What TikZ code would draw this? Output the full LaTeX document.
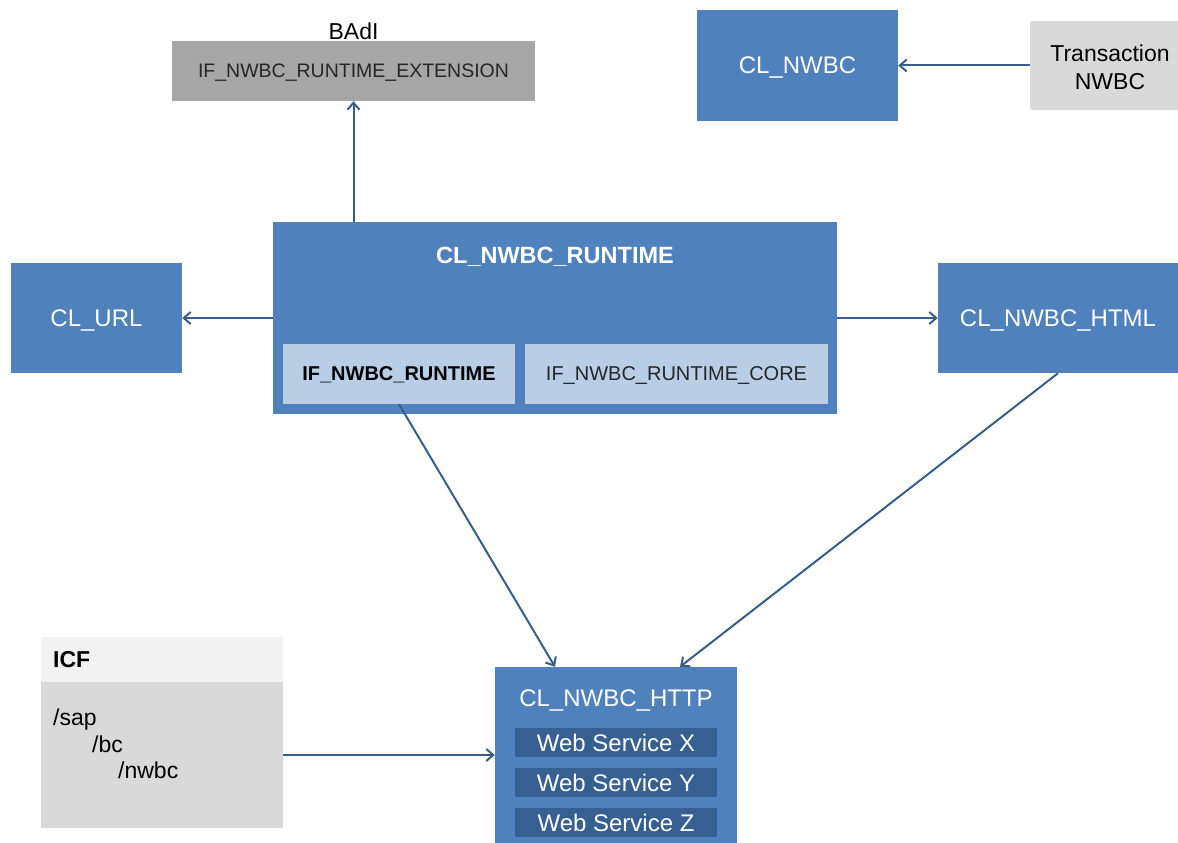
\documentclass[tikz,border=0pt]{standalone}
\usepackage{fontspec}
\setmainfont{Liberation Sans}
\usetikzlibrary{arrows.meta,calc}
\definecolor{sapblue}{HTML}{4F81BD}
\definecolor{lightblue}{HTML}{B9CDE5}
\definecolor{darkblue}{HTML}{366092}
\definecolor{midgrey}{HTML}{A6A6A6}
\definecolor{lightgrey}{HTML}{D9D9D9}
\definecolor{palegrey}{HTML}{F2F2F2}
\definecolor{arrowcol}{HTML}{385D8A}
\definecolor{textgrey}{HTML}{262626}
\tikzset{
  x=1pt, y=-1pt,
  bluebox/.style={fill=sapblue, draw=none, text=white, font=\fontsize{24}{28}\selectfont, inner sep=0pt, text depth=0pt},
  ifbox/.style={fill=lightblue, draw=none, font=\fontsize{20}{24}\selectfont, inner sep=0pt, text depth=0pt},
  wsbox/.style={fill=darkblue, draw=none, text=white, font=\fontsize{24}{28}\selectfont, inner sep=0pt, minimum width=202pt, minimum height=29pt, text depth=0pt},
  greybox/.style={fill=lightgrey, draw=none, inner sep=0pt},
  conn/.style={draw=arrowcol, line width=2pt, -{Straight Barb[length=7pt,width=12pt,line width=2pt]}},
}
\begin{document}
\begin{tikzpicture}
\useasboundingbox (0,0) rectangle (1178,843);

% BAdI
\node[fill=midgrey, inner sep=0pt, minimum width=363pt, minimum height=60pt, text=textgrey, text depth=0pt, font=\fontsize{19.5}{23}\selectfont] (badi) at (353.5,71) {IF\_NWBC\_RUNTIME\_EXTENSION};
\node[font=\fontsize{23}{27}\selectfont, anchor=south, inner sep=1pt] (badilabel) at (badi.north) {BAdI};

% CL_NWBC and Transaction
\node[bluebox, minimum width=201pt, minimum height=111pt] (nwbc) at (797.5,65.5) {CL\_NWBC};
\node[greybox, rounded corners=3pt, minimum width=152pt, minimum height=89pt] (trans) at (1106,65.5) {};
\node[align=center, font=\fontsize{23}{28}\selectfont, inner sep=0pt] (transtext) at (1110,67) {Transaction\\NWBC};

% Runtime
\node[bluebox, minimum width=564pt, minimum height=192pt] (rt) at (555,318) {};
\node[text=white, font=\bfseries\fontsize{23.5}{28}\selectfont, inner sep=0pt, text depth=0pt] (rttitle) at (555,255) {CL\_NWBC\_RUNTIME};
\node[ifbox, minimum width=232pt, minimum height=60pt, font=\bfseries\fontsize{20}{24}\selectfont] (ifrt) at (399,374) {IF\_NWBC\_RUNTIME};
\node[ifbox, minimum width=303pt, minimum height=60pt, text=textgrey] (ifcore) at (676.5,374) {IF\_NWBC\_RUNTIME\_CORE};

% CL_URL and CL_NWBC_HTML
\node[bluebox, minimum width=171pt, minimum height=110pt] (url) at (96.5,318) {CL\_URL};
\node[bluebox, minimum width=240pt, minimum height=110pt] (html) at (1058,318) {CL\_NWBC\_HTML};

% ICF
\node[fill=palegrey, inner sep=0pt, minimum width=242pt, minimum height=45pt] (icfhead) at (162,659.5) {};
\node[font=\bfseries\fontsize{23}{27}\selectfont, anchor=west, inner sep=0pt] (icflabel) at (53,660) {ICF};
\node[greybox, minimum width=242pt, minimum height=146pt] (icfbody) at (162,755) {};
\node[font=\fontsize{23}{26.5}\selectfont, anchor=north west, inner sep=0pt, align=left] (icftext) at (53,709)
  {/sap\\\hspace*{39pt}/bc\\\hspace*{65pt}/nwbc};

% HTTP
\node[bluebox, minimum width=242pt, minimum height=176pt] (http) at (616,755) {};
\node[text=white, font=\fontsize{24}{28}\selectfont, inner sep=0pt, text depth=0pt] (httptitle) at (616,698) {CL\_NWBC\_HTTP};
\node[wsbox] (wsx) at (616,742.5) {Web Service X};
\node[wsbox] (wsy) at (616,782.5) {Web Service Y};
\node[wsbox] (wsz) at (616,822.5) {Web Service Z};

% Connectors
\draw[conn] (rt.north -| badi.south) -- (badi.south);
\draw[conn] (trans.west) -- (nwbc.east);
\draw[conn] (rt.west |- url.east) -- (url.east);
\draw[conn] (rt.east |- html.west) -- (html.west);
\draw[conn] (ifrt.south) -- ($(http.north)+(-61,0)$);
\draw[conn] (html.south) -- ($(http.north)+(64,0)$);
\draw[conn] (icfbody.east) -- (http.west |- icfbody.east);
\end{tikzpicture}
\end{document}
